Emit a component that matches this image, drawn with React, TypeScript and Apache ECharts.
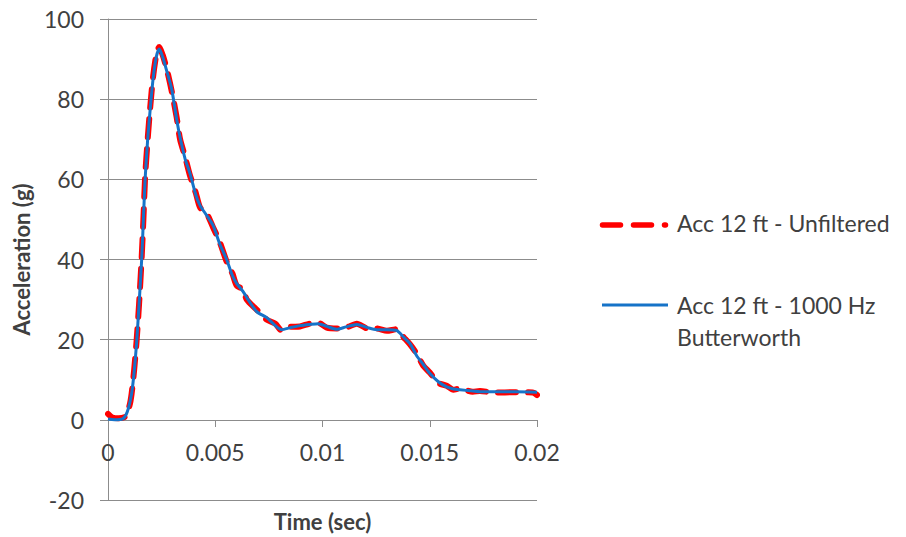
import React, { useEffect, useRef } from "react";
import * as echarts from "echarts";

const timeBlue = [0, 0.0003, 0.0007, 0.0009, 0.0011, 0.00122, 0.00133, 0.00145, 0.00157, 0.00165, 0.00173, 0.00185, 0.00196, 0.0021, 0.00225, 0.00239, 0.00255, 0.00274, 0.00297, 0.0032, 0.00336, 0.0036, 0.00382, 0.0041, 0.00429, 0.0046, 0.0049, 0.0052, 0.00553, 0.0058, 0.006, 0.0063, 0.00647, 0.00693, 0.0074, 0.0078, 0.0081, 0.0085, 0.00895, 0.0094, 0.0098, 0.0102, 0.01066, 0.0111, 0.0116, 0.0121, 0.01252, 0.013, 0.01345, 0.0138, 0.01408, 0.01439, 0.0147, 0.015, 0.0154, 0.01579, 0.0161, 0.01641, 0.017, 0.01734, 0.018, 0.019, 0.02];
const accBlue = [0.2, 0, 0.3, 2, 6.5, 12, 19, 29, 40, 50, 60, 70, 77, 85, 90.5, 92.5, 90.5, 87, 82.5, 75, 70.5, 65, 61.5, 56, 53.5, 51, 48.5, 44, 40, 36, 34, 32, 30.5, 27, 25.5, 23.5, 22.5, 23, 23.5, 23.8, 24, 23.3, 22.6, 23.2, 23.8, 23, 22.5, 22.5, 22.3, 20.5, 19, 16, 13.8, 11.6, 9.5, 8.2, 7.7, 7.5, 7.2, 7, 7, 7, 6.9];

const timeRed = [0, 0.0002, 0.0005, 0.0008, 0.001, 0.0011, 0.00122, 0.00133, 0.00145, 0.00157, 0.00165, 0.00173, 0.00185, 0.00196, 0.0021, 0.00225, 0.00239, 0.00255, 0.00274, 0.00297, 0.0032, 0.00336, 0.0036, 0.00382, 0.0041, 0.00429, 0.0046, 0.0049, 0.0052, 0.00553, 0.0058, 0.006, 0.0063, 0.00647, 0.00693, 0.0074, 0.0078, 0.0081, 0.0085, 0.00895, 0.0094, 0.0098, 0.0102, 0.01066, 0.0111, 0.0116, 0.0121, 0.01252, 0.013, 0.01345, 0.0138, 0.01408, 0.01439, 0.0147, 0.015, 0.0154, 0.01579, 0.0161, 0.01641, 0.017, 0.01734, 0.018, 0.019, 0.0198, 0.02];
const accRed = [1.5, 0.6, 0.4, 0.8, 3.5, 6.5, 12.5, 19.5, 29, 40.5, 50, 60.5, 70, 77.5, 85.5, 91, 93, 91, 87.5, 82, 75.5, 70, 65.5, 61, 56.5, 53, 51.5, 48, 44.5, 39.5, 36.5, 33.5, 32.5, 30, 27.5, 25, 24, 22.3, 23.2, 23.3, 24, 24.2, 23, 22.8, 23, 24, 22.8, 22.8, 22.2, 22.6, 20.5, 18.8, 16.5, 13.5, 11.8, 9.2, 8.5, 7.5, 7.8, 7, 7.2, 6.8, 6.9, 6.8, 6.2];

const xTicks = { min: 0, max: 0.02, interval: 0.005 };
const yTicks = { min: -20, max: 100, interval: 20 };

const seriesNames = ["Acc 12 ft - Unfiltered", "Acc 12 ft - 1000 Hz\nButterworth"];

const FONT = "Lato";
const TEXT = "#404040";
const GRID = "#8c8c8c";
const RED = "#ff0000";
const BLUE = "#1673c8";

export default function App() {
  const ref = useRef<HTMLDivElement>(null);
  useEffect(() => {
    if (!ref.current) return;
    const chart = echarts.init(ref.current, null, { renderer: "svg" });
    const redData = timeRed.map((t, i) => [t, accRed[i]]);
    const blueData = timeBlue.map((t, i) => [t, accBlue[i]]);
    chart.setOption({
      animation: false,
      backgroundColor: "#ffffff",
      textStyle: { fontFamily: FONT },
      grid: { left: 108, right: 369, top: 19, bottom: 37, containLabel: false, outerBoundsMode: "none" },
      xAxis: {
        type: "value",
        min: xTicks.min,
        max: xTicks.max,
        interval: xTicks.interval,
        offset: -80,
        name: "Time (sec)",
        nameLocation: "middle",
        nameGap: 90,
        nameTextStyle: { fontFamily: FONT, fontSize: 22, fontWeight: "bold", color: TEXT },
        axisLine: { onZero: false, lineStyle: { color: GRID, width: 1 } },
        axisTick: { show: true, inside: false, length: 7, lineStyle: { color: GRID } },
        axisLabel: {
          fontFamily: FONT,
          fontSize: 23,
          color: TEXT,
          margin: 20,
          formatter: (v: number) => String(parseFloat(v.toFixed(4))),
        },
        splitLine: { show: false },
      },
      yAxis: {
        type: "value",
        min: yTicks.min,
        max: yTicks.max,
        interval: yTicks.interval,
        name: "Acceleration (g)",
        nameLocation: "middle",
        nameGap: 76,
        nameTextStyle: { fontFamily: FONT, fontSize: 22, fontWeight: "bold", color: TEXT },
        axisLine: { show: true, onZero: false, lineStyle: { color: GRID, width: 1 } },
        axisTick: { show: true, inside: false, length: 8, lineStyle: { color: GRID } },
        axisLabel: { fontFamily: FONT, fontSize: 23, color: TEXT, margin: 24 },
        splitLine: { show: true, lineStyle: { color: GRID, width: 1.2 } },
      },
      series: [
        {
          name: seriesNames[0],
          type: "line",
          data: redData,
          showSymbol: false,
          symbol: "none",
          smooth: 0.25,
          lineStyle: { color: RED, width: 6, type: [18, 12], cap: "round", join: "round" },
          z: 2,
        },
        {
          name: seriesNames[1],
          type: "line",
          data: blueData,
          showSymbol: false,
          symbol: "none",
          smooth: 0.25,
          lineStyle: { color: BLUE, width: 3, join: "round" },
          z: 3,
        },
      ],
      graphic: [
        {
          type: "line",
          shape: { x1: 602.5, y1: 225, x2: 665.5, y2: 225 },
          style: { stroke: RED, lineWidth: 5.5, lineDash: [18, 13], lineCap: "round" },
        },
        {
          type: "text",
          left: 677,
          top: 211,
          style: { text: seriesNames[0], fontFamily: FONT, fontSize: 23, fill: TEXT },
        },
        {
          type: "line",
          shape: { x1: 602, y1: 305, x2: 668, y2: 305 },
          style: { stroke: BLUE, lineWidth: 3 },
        },
        {
          type: "text",
          left: 677,
          top: 289,
          style: { text: seriesNames[1], fontFamily: FONT, fontSize: 23, fill: TEXT, lineHeight: 32 },
        },
      ],
    });
    return () => chart.dispose();
  }, []);
  return <div ref={ref} style={{ width: 906, height: 537, position: "absolute", left: 0, top: 0 }} />;
}
